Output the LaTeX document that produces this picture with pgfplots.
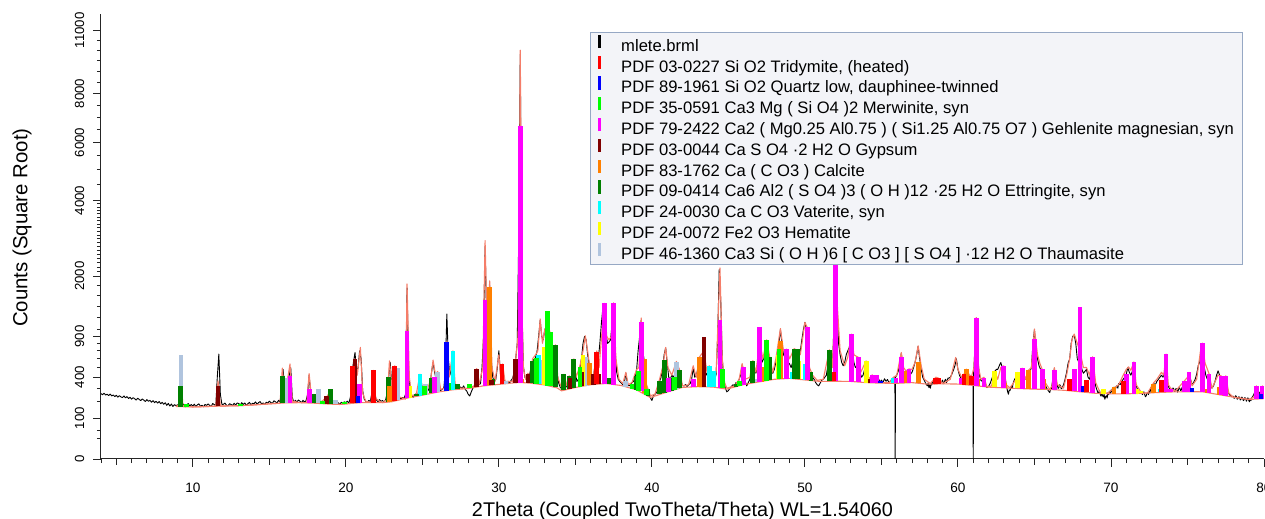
\documentclass[border=0pt]{standalone}
\usepackage{fontspec}
\setmainfont{Liberation Sans}
\usepackage{pgfplots}
\pgfplotsset{compat=1.18}

% phase colours
\definecolor{tri}{RGB}{255,0,0}
\definecolor{qtz}{RGB}{0,0,255}
\definecolor{mer}{RGB}{0,255,0}
\definecolor{geh}{RGB}{255,0,255}
\definecolor{gyp}{RGB}{128,0,0}
\definecolor{cal}{RGB}{255,128,0}
\definecolor{ett}{RGB}{0,128,0}
\definecolor{vat}{RGB}{0,255,255}
\definecolor{hem}{RGB}{255,255,0}
\definecolor{thm}{RGB}{176,196,222}
\definecolor{calc}{RGB}{245,125,105}
\definecolor{lgfill}{RGB}{243,244,248}
\definecolor{lgdraw}{RGB}{150,168,196}

% one stick per reflection: position / background level / peak height
\newcommand\sticks[2]{%
  \foreach \Sx/\Sb/\St in {#2}{%
    \edef\onestick{\noexpand\addplot[forget plot, draw=#1, line width=2.4pt]
      coordinates {(\Sx,\Sb) (\Sx,\St)};}%
    \onestick
  }%
}

\begin{document}
\begin{tikzpicture}
\useasboundingbox (-50.5pt,-30pt) rectangle (582pt,229.5pt);
\begin{axis}[
  scale only axis, width=581.5pt, height=222.5pt,
  xmin=4, xmax=80, ymin=0, ymax=11850,
  y coord trafo/.code={\pgfmathparse{sqrt(#1)}},
  y coord inv trafo/.code={\pgfmathparse{(#1)*(#1)}},
  axis x line*=bottom, axis y line*=left,
  axis line style={line width=0.5pt, black!85},
  tick align=outside,
  major tick length=3.8pt, minor tick length=2.1pt,
  every tick/.style={black!85, line width=0.45pt},
  xtick={10,20,...,80},
  minor xtick={4,5,...,80},
  extra x ticks={5,15,...,75},
  extra x tick labels={},
  extra x tick style={major tick length=3pt},
  ytick={0,100,400,900,2000,4000,6000,8000,11000},
  yticklabels={0,100,400,900,2000,4000,6000,8000,11000},
  minor ytick={25,50,200,300,500,600,700,800,1000,1200,1400,1600,1800,2100,2200,...,3900,4500,5000,5500,6500,7000,7500,8500,9000,9500,10000,10500},
  /pgf/number format/assume math mode=true,
  xticklabel style={font=\fontsize{6.8}{8}\selectfont, anchor=base, yshift=-13pt},
  yticklabel style={font=\fontsize{6.6}{8}\selectfont, xshift=-4.6pt, rotate=90, anchor=base},
  xlabel={2Theta (Coupled TwoTheta/Theta) WL=1.54060},
  ylabel={Counts (Square Root)},
  xlabel style={font=\fontsize{9.9}{12}\selectfont, at={(axis description cs:0.5,-0.1303)}, anchor=base},
  ylabel style={font=\fontsize{10.2}{12}\selectfont, at={(axis description cs:-0.0679,0.52)}, anchor=center},
  legend style={
    at={(axis description cs:0.4205,0.9596)}, anchor=north west,
    draw=lgdraw, line width=0.7pt, fill=lgfill,
    font=\fontsize{8.3}{9.7}\selectfont,
    inner xsep=3.4pt, inner ysep=0.2pt, row sep=-1.1pt,
    nodes={inner xsep=0.8pt, inner ysep=0.5pt, text height=6.2pt, text depth=1.9pt},
  },
  legend cell align=left,
  legend image code/.code={\draw[#1, line width=1.7pt] (0pt,-0.5pt) -- (0pt,6.1pt);
    \path[draw=none, fill=none] (-0.85pt,0pt) rectangle (10.2pt,0.1pt);},
]

% measured pattern
\addplot[forget plot, black, line width=0.45pt, line join=round] coordinates {
(4.0,256)(4.1,247)(4.2,259)(4.3,245)(4.4,251)(4.5,240)(4.6,252)(4.7,238)(4.8,245)(4.9,233)
(5.0,243)(5.1,229)(5.2,240)(5.3,231)(5.4,226)(5.5,238)(5.6,224)(5.7,233)(5.8,219)(5.9,228)
(6.0,214)(6.1,225)(6.2,217)(6.3,208)(6.4,221)(6.5,212)(6.6,204)(6.7,216)(6.8,207)(6.9,198)
(7.0,211)(7.1,199)(7.2,206)(7.3,193)(7.4,204)(7.5,190)(7.6,199)(7.7,187)(7.8,198)(7.9,183)
(8.0,192)(8.1,179)(8.2,189)(8.3,172)(8.4,185)(8.5,168)(8.6,181)(8.7,165)(8.8,177)(8.9,170)
(9.0,176)(9.1,166)(9.2,480)(9.3,170)(9.4,180)(9.5,163)(9.6,175)(9.7,184)(9.8,168)(9.9,178)
(10.0,168)(10.1,180)(10.2,164)(10.3,176)(10.4,182)(10.5,166)(10.6,173)(10.7,163)(10.8,178)(10.9,172)
(11.0,181)(11.1,172)(11.2,165)(11.3,184)(11.4,177)(11.5,170)(11.6,400)(11.7,659)(11.8,250)(11.9,179)
(12.0,179)(12.1,187)(12.2,173)(12.3,169)(12.4,183)(12.5,178)(12.6,171)(12.7,186)(12.8,174)(12.9,188)
(13.0,184)(13.1,174)(13.2,190)(13.3,178)(13.4,188)(13.5,171)(13.6,183)(13.7,192)(13.8,176)(13.9,186)
(14.0,183)(14.1,195)(14.2,179)(14.3,191)(14.4,197)(14.5,181)(14.6,188)(14.7,178)(14.8,193)(14.9,187)
(15.0,200)(15.1,191)(15.2,184)(15.3,203)(15.4,196)(15.5,187)(15.6,206)(15.7,194)(15.8,300)(15.9,480)
(16.0,300)(16.1,330)(16.2,280)(16.3,420)(16.4,500)(16.5,230)(16.6,191)(16.7,206)(16.8,194)(16.9,208)
(17.0,200)(17.1,190)(17.2,206)(17.3,194)(17.4,204)(17.5,250)(17.6,420)(17.7,260)(17.8,230)(17.9,240)
(18.0,200)(18.1,215)(18.2,270)(18.3,210)(18.4,196)(18.5,200)(18.6,193)(18.7,220)(18.8,230)(18.9,240)
(19.0,265)(19.1,210)(19.2,195)(19.3,200)(19.4,183)(19.5,190)(19.6,178)(19.7,192)(19.8,184)(19.9,196)
(20.0,190)(20.1,200)(20.2,186)(20.3,230)(20.4,450)(20.5,560)(20.6,679)(20.7,450)(20.8,500)(20.9,700)
(21.0,600)(21.1,280)(21.2,215)(21.3,200)(21.4,192)(21.5,206)(21.6,198)(21.7,260)(21.8,440)(21.9,250)
(22.0,208)(22.1,196)(22.2,211)(22.3,199)(22.4,205)(22.5,193)(22.6,210)(22.7,260)(22.8,400)(22.9,560)
(23.0,330)(23.1,300)(23.2,480)(23.3,420)(23.4,250)(23.5,225)(23.6,214)(23.7,226)(23.8,220)(23.9,250)
(24.0,1750)(24.1,500)(24.2,280)(24.3,240)(24.4,228)(24.5,245)(24.6,255)(24.7,240)(24.8,330)(24.9,400)
(25.0,290)(25.1,262)(25.2,290)(25.3,270)(25.4,285)(25.5,330)(25.6,450)(25.7,560)(25.8,450)(25.9,380)
(26.0,420)(26.1,300)(26.2,280)(26.3,292)(26.4,300)(26.5,450)(26.6,1258)(26.7,600)(26.8,420)(26.9,500)
(27.0,650)(27.1,350)(27.2,300)(27.3,310)(27.4,295)(27.5,310)(27.6,298)(27.7,320)(27.8,290)(27.9,276)
(28.0,250)(28.1,238)(28.2,270)(28.3,300)(28.4,320)(28.5,480)(28.6,400)(28.7,330)(28.8,340)(28.9,500)
(29.0,900)(29.1,2700)(29.2,1200)(29.3,1200)(29.4,1800)(29.5,600)(29.6,400)(29.7,360)(29.8,380)(29.9,500)
(30.0,701)(30.1,450)(30.2,520)(30.3,400)(30.4,360)(30.5,350)(30.6,362)(30.7,345)(30.8,370)(30.9,390)
(31.0,450)(31.1,600)(31.2,800)(31.3,3000)(31.4,9800)(31.5,1500)(31.6,520)(31.7,400)(31.8,380)(31.9,430)
(32.0,420)(32.1,500)(32.2,560)(32.3,560)(32.4,620)(32.5,700)(32.6,900)(32.7,1150)(32.8,900)(32.9,850)
(33.0,1000)(33.1,1050)(33.2,1100)(33.3,1000)(33.4,750)(33.5,650)(33.6,700)(33.7,760)(33.8,450)(33.9,350)
(34.0,310)(34.1,295)(34.2,420)(34.3,330)(34.4,310)(34.5,330)(34.6,400)(34.7,340)(34.8,400)(34.9,580)
(35.0,450)(35.1,360)(35.2,380)(35.3,500)(35.4,600)(35.5,800)(35.6,900)(35.7,850)(35.8,650)(35.9,540)
(36.0,430)(36.1,390)(36.2,430)(36.3,550)(36.4,680)(36.5,600)(36.6,800)(36.7,1100)(36.8,1376)(36.9,1400)
(37.0,950)(37.1,800)(37.2,820)(37.3,850)(37.4,1100)(37.5,1400)(37.6,700)(37.7,450)(37.8,380)(37.9,360)
(38.0,345)(38.1,330)(38.2,350)(38.3,440)(38.4,340)(38.5,320)(38.6,330)(38.7,350)(38.8,360)(38.9,400)
(39.0,470)(39.1,700)(39.2,900)(39.3,1150)(39.4,700)(39.5,580)(39.6,350)(39.7,290)(39.8,250)(39.9,225)
(40.0,205)(40.1,238)(40.2,250)(40.3,262)(40.4,290)(40.5,360)(40.6,400)(40.7,500)(40.8,650)(40.9,740)
(41.0,550)(41.1,400)(41.2,380)(41.3,420)(41.4,400)(41.5,430)(41.6,560)(41.7,500)(41.8,470)(41.9,360)
(42.0,325)(42.1,318)(42.2,332)(42.3,314)(42.4,330)(42.5,340)(42.6,380)(42.7,500)(42.8,400)(42.9,420)
(43.0,480)(43.1,600)(43.2,500)(43.3,560)(43.4,650)(43.5,450)(43.6,420)(43.7,500)(43.8,440)(43.9,380)
(44.0,400)(44.1,370)(44.2,430)(44.3,900)(44.4,2150)(44.5,1500)(44.6,600)(44.7,380)(44.8,300)(44.9,270)
(45.0,280)(45.1,300)(45.2,315)(45.3,330)(45.4,320)(45.5,350)(45.6,340)(45.7,380)(45.8,420)(45.9,530)
(46.0,450)(46.1,360)(46.2,320)(46.3,350)(46.4,380)(46.5,420)(46.6,560)(46.7,480)(46.8,440)(46.9,500)
(47.0,820)(47.1,700)(47.2,560)(47.3,600)(47.4,700)(47.5,840)(47.6,600)(47.7,560)(47.8,460)(47.9,440)
(48.0,480)(48.1,560)(48.2,650)(48.3,800)(48.4,1000)(48.5,800)(48.6,650)(48.7,620)(48.8,700)(48.9,560)
(49.0,540)(49.1,500)(49.2,560)(49.3,720)(49.4,650)(49.5,700)(49.6,620)(49.7,700)(49.8,850)(49.9,1000)
(50.0,1117)(50.1,1000)(50.2,600)(50.3,450)(50.4,430)(50.5,400)(50.6,380)(50.7,350)(50.8,330)(50.9,320)
(51.0,345)(51.1,372)(51.2,380)(51.3,400)(51.4,420)(51.5,520)(51.6,700)(51.7,520)(51.8,500)(51.9,1100)
(52.0,2900)(52.1,1400)(52.2,800)(52.3,650)(52.4,560)(52.5,520)(52.6,560)(52.7,650)(52.8,700)(52.9,745)
(53.0,900)(53.1,700)(53.2,560)(53.3,500)(53.4,520)(53.5,600)(53.6,450)(53.7,400)(53.8,420)(53.9,480)
(54.0,560)(54.1,420)(54.2,380)(54.3,372)(54.4,400)(54.5,360)(54.6,380)(54.7,365)(54.8,390)(54.9,355)
(55.0,372)(55.1,350)(55.2,385)(55.3,362)(55.4,378)(55.5,345)(55.6,368)(55.7,380)(55.8,400)(55.88,385)(55.9,0)(55.92,400)
(56.0,420)(56.1,460)(56.2,550)(56.3,670)(56.4,500)(56.5,430)(56.6,440)(56.7,420)(56.8,470)(56.9,430)
(57.0,450)(57.1,500)(57.2,560)(57.3,650)(57.4,760)(57.5,600)(57.6,480)(57.7,400)(57.8,370)(57.9,340)
(58.0,320)(58.05,345)(58.1,305)(58.15,330)(58.2,300)(58.25,338)(58.3,330)(58.35,362)(58.4,352)(58.45,338)(58.5,370)(58.6,380)(58.65,352)(58.7,360)(58.8,385)(58.85,348)(58.9,350)
(59.0,372)(59.05,340)(59.1,345)(59.15,372)(59.2,380)(59.25,350)(59.3,362)(59.35,392)(59.4,390)(59.5,400)(59.6,430)(59.7,470)(59.8,520)(59.9,600)
(60.0,480)(60.1,420)(60.2,390)(60.3,385)(60.4,410)(60.5,440)(60.6,470)(60.7,420)(60.8,400)(60.9,390)(60.98,380)(61.0,0)(61.02,420)
(61.1,700)(61.2,1190)(61.3,600)(61.4,420)(61.5,370)(61.6,360)(61.7,390)(61.8,330)(61.9,305)
(62.0,315)(62.1,340)(62.2,380)(62.3,420)(62.4,450)(62.5,480)(62.6,480)(62.7,520)(62.8,557)(62.9,500)
(63.0,510)(63.1,380)(63.2,300)(63.25,270)(63.3,251)(63.35,285)(63.4,280)(63.5,320)(63.55,298)(63.6,340)(63.7,380)(63.8,400)(63.9,440)
(64.0,400)(64.1,420)(64.2,480)(64.3,400)(64.4,380)(64.5,400)(64.6,460)(64.7,450)(64.8,500)(64.9,800)
(65.0,1000)(65.1,700)(65.2,600)(65.3,520)(65.4,480)(65.5,470)(65.6,380)(65.7,330)(65.8,300)(65.9,280)
(66.0,264)(66.05,292)(66.1,290)(66.2,380)(66.3,490)(66.4,360)(66.5,320)(66.55,298)(66.6,305)(66.65,330)(66.7,320)(66.75,296)(66.8,300)(66.9,330)
(67.0,380)(67.1,450)(67.2,550)(67.3,597)(67.4,800)(67.5,900)(67.6,920)(67.7,800)(67.8,600)(67.9,560)
(68.0,650)(68.1,480)(68.2,440)(68.3,460)(68.4,480)(68.5,400)(68.6,380)(68.7,450)(68.8,600)(68.9,400)
(69.0,320)(69.05,296)(69.1,280)(69.15,258)(69.2,265)(69.25,282)(69.3,250)(69.35,236)(69.4,262)(69.45,240)(69.5,230)(69.55,252)(69.6,214)(69.65,232)(69.7,240)(69.75,222)(69.8,262)(69.85,248)(69.9,275)(69.95,258)
(70.0,285)(70.05,268)(70.1,300)(70.15,282)(70.2,310)(70.25,290)(70.3,295)(70.35,318)(70.4,320)(70.45,300)(70.5,340)(70.6,330)(70.7,360)(70.8,380)(70.9,400)
(71.0,430)(71.1,500)(71.2,450)(71.3,420)(71.4,460)(71.5,550)(71.6,350)(71.7,300)(71.8,280)(71.9,262)
(72.0,270)(72.05,248)(72.1,255)(72.15,270)(72.2,250)(72.25,232)(72.3,238)(72.35,258)(72.4,265)(72.45,248)(72.5,280)(72.55,262)(72.6,300)(72.7,320)(72.8,340)(72.9,330)
(73.0,360)(73.1,380)(73.2,400)(73.3,420)(73.4,400)(73.5,450)(73.6,640)(73.7,340)(73.8,300)(73.9,290)
(74.0,280)(74.05,302)(74.1,295)(74.15,272)(74.2,276)(74.25,298)(74.3,290)(74.35,268)(74.4,282)(74.45,304)(74.5,300)(74.55,280)(74.6,286)(74.65,308)(74.7,310)(74.8,350)(74.9,330)
(75.0,360)(75.1,440)(75.2,380)(75.3,330)(75.4,350)(75.5,380)(75.6,430)(75.7,520)(75.8,565)(75.9,700)
(76.0,790)(76.1,500)(76.2,420)(76.3,380)(76.4,420)(76.5,340)(76.6,300)(76.7,320)(76.8,360)(76.9,420)
(77.0,465)(77.1,420)(77.2,400)(77.3,350)(77.4,380)(77.5,400)(77.6,300)(77.7,255)(77.8,240)(77.9,232)
(78.0,236)(78.05,220)(78.1,225)(78.15,240)(78.2,232)(78.25,214)(78.3,218)(78.35,232)(78.4,228)(78.45,208)(78.5,214)(78.55,230)(78.6,222)(78.65,204)(78.7,210)(78.75,226)(78.8,220)(78.85,200)(78.9,212)(78.95,224)
(79.0,206)(79.05,196)(79.1,218)(79.15,204)(79.2,224)(79.3,240)(79.4,270)(79.5,310)(79.6,240)(79.7,260)(79.8,280)(79.9,310)
(80.0,240)
};

% fitted background
\addplot[forget plot, calc, line width=0.55pt, line join=round] coordinates {
(8.9,165)(10,162)(11,165)(12,168)(13,170)(14,175)(15,182)(16,188)(17,190)(18,186)(19,180)(19.6,178)
(20,182)(21,190)(22,190)(22.4,190)(23,196)(24,222)(25,243)(26,268)(27,287)(28,297)(29,320)(30,333)
(31,347)(31.4,350)(32,345)(33,328)(33.8,303)(34.1,278)(35,306)(36,330)(37,341)(38,323)(39,286)
(39.9,226)(40,230)(41,268)(42,307)(43,313)(44,310)(44.9,292)(45,296)(46,331)(47,356)(48,380)
(49,389)(50,374)(51,360)(52,362)(53,360)(54,349)(55,344)(56,343)(57,349)(58,335)(59,338)(60,336)
(61,324)(62,309)(63,303)(64,297)(65,292)(66,289)(67,282)(68,270)(69,258)(70,254)(71,254)(72,258)
(73,264)(74,269)(75,271)(76,270)(77,249)(78,229)(79,212)(80,218)
};

% calculated pattern
\addplot[forget plot, calc, line width=0.55pt, line join=round] coordinates {
(8.9,165)(9.08,175)(9.2,486)(9.35,170)(10,162)(11,165)(11.5,168)(11.65,365)(11.8,168)(12,168)
(13,170)(14,175)(15,182)(15.7,186)(15.85,494)(16.0,260)(16.1,300)(16.35,540)(16.5,200)(17,190)
(17.45,190)(17.6,437)(17.75,230)(17.9,250)(18.05,200)(18.2,280)(18.35,190)(18.75,230)(19.0,280)
(19.15,185)(19.6,178)(20.3,185)(20.45,480)(20.6,600)(20.75,420)(20.95,745)(21.1,260)(21.3,200)
(21.65,190)(21.8,470)(21.95,220)(22.2,200)(22.4,190)(22.7,210)(22.85,577)(23.0,320)(23.2,520)
(23.35,400)(23.5,230)(23.9,215)(24.0,1833)(24.15,400)(24.3,240)(24.6,250)(24.85,430)(25.0,260)
(25.3,280)(25.55,380)(25.7,586)(25.85,430)(26.0,458)(26.2,290)(26.5,300)(26.6,830)(26.75,400)
(27.0,700)(27.15,320)(27.5,300)(28.0,300)(28.4,320)(28.55,490)(28.7,330)(28.95,500)(29.1,2855)
(29.25,900)(29.4,1900)(29.55,500)(29.75,360)(30.0,650)(30.1,420)(30.25,540)(30.4,360)(30.9,360)
(31.1,600)(31.25,900)(31.32,2800)(31.4,10000)(31.5,1500)(31.6,500)(31.75,380)(31.9,440)(32.05,400)
(32.2,600)(32.4,650)(32.55,700)(32.7,1175)(32.85,800)(33.0,1000)(33.2,1100)(33.35,950)(33.5,700)
(33.7,780)(33.85,400)(34.1,300)(34.25,430)(34.45,320)(34.6,414)(34.75,350)(34.9,600)(35.05,400)
(35.3,520)(35.5,700)(35.65,909)(35.8,700)(35.9,560)(36.05,420)(36.2,430)(36.4,700)(36.55,500)
(36.75,1000)(36.9,1450)(37.05,900)(37.2,850)(37.35,900)(37.5,1460)(37.65,600)(37.85,380)(38.1,340)
(38.3,450)(38.45,330)(38.7,350)(39.0,480)(39.15,500)(39.3,1190)(39.45,600)(39.6,350)(39.9,240)
(40.2,250)(40.5,380)(40.7,500)(40.9,745)(41.05,500)(41.3,420)(41.6,570)(41.8,480)(42.0,320)
(42.4,330)(42.7,520)(42.9,400)(43.1,620)(43.4,700)(43.6,450)(43.75,520)(43.9,400)(44.2,450)
(44.45,2183)(44.6,600)(44.75,350)(44.9,300)(45.4,320)(45.7,380)(45.9,545)(46.1,380)(46.4,400)
(46.6,580)(46.8,450)(47.05,836)(47.25,600)(47.5,850)(47.7,620)(47.9,450)(48.1,600)(48.4,1019)
(48.6,700)(48.8,723)(49.0,600)(49.3,730)(49.5,700)(49.7,650)(50.0,1117)(50.15,1036)(50.3,500)
(50.5,420)(50.8,370)(51.2,380)(51.6,714)(51.8,500)(51.92,1200)(52.0,3000)(52.1,1500)(52.3,700)
(52.6,520)(52.8,620)(52.9,745)(53.05,934)(53.2,650)(53.5,617)(53.65,450)(54.0,577)(54.15,380)
(54.4,424)(54.6,360)(55.0,350)(55.5,348)(55.8,400)(56.0,420)(56.3,679)(56.45,500)(56.6,465)
(56.8,485)(57.0,480)(57.2,560)(57.4,767)(57.6,520)(57.8,380)(58.2,340)(58.55,400)(58.75,390)
(59.0,340)(59.5,380)(59.85,617)(60.0,480)(60.25,397)(60.4,431)(60.55,483)(60.75,420)(60.9,414)
(61.05,500)(61.2,1198)(61.35,500)(61.5,380)(61.7,400)(61.9,310)(62.2,320)(62.4,465)(62.6,380)
(62.8,500)(63.0,520)(63.15,330)(63.4,303)(63.8,380)(63.9,448)(64.05,400)(64.2,494)(64.4,380)
(64.6,472)(64.8,500)(65.0,1011)(65.2,650)(65.35,550)(65.5,483)(65.7,350)(66.0,290)(66.15,320)
(66.3,500)(66.5,330)(66.9,300)(67.1,420)(67.3,600)(67.45,850)(67.6,934)(67.8,800)(67.97,700)
(68.2,500)(68.4,501)(68.6,420)(68.8,625)(69.0,350)(69.3,262)(69.8,260)(70.2,300)(70.5,330)
(70.8,420)(71.0,480)(71.15,508)(71.3,470)(71.5,565)(71.65,330)(72.0,262)(72.4,262)(72.8,350)
(73.0,380)(73.3,450)(73.45,420)(73.6,659)(73.75,330)(73.9,300)(74.2,275)(74.8,365)(75.0,400)
(75.1,448)(75.3,320)(75.6,380)(75.85,700)(75.97,804)(76.15,550)(76.4,440)(76.6,300)(77.0,420)
(77.2,414)(77.35,360)(77.5,414)(77.7,260)(78,229)(79,212)(79.35,230)(79.5,320)(79.65,230)
(79.8,250)(79.9,320)(80,225)
};

% reference patterns
\sticks{thm}{9.23/164/646, 16.07/188/397, 18.2/185/292, 19.3/179/205, 23.35/205/494, 25.2/248/335, 26.0/268/458, 30.45/340/365, 32.75/335/586, 35.65/322/628, 38.3/312/360, 41.6/291/568, 44.55/300/360, 46.9/353/381, 47.3/363/465}
\sticks{hem}{24.15/225/320, 33.0/328/745, 35.5/318/650, 40.95/266/341, 48.25/382/650, 49.6/380/577, 54.0/349/577, 57.45/343/380, 62.4/307/465, 63.9/298/448, 69.5/256/290, 71.7/255/292, 71.95/257/280}
\sticks{vat}{24.85/240/431, 27.0/287/701, 32.6/338/650, 43.75/311/520, 44.0/310/465, 49.2/387/458, 50.0/374/540, 55.8/343/397, 73.2/265/290}
\sticks{ett}{9.17/164/320, 15.85/187/414, 17.9/187/256, 19.0/180/292, 22.8/194/404, 24.6/235/252, 25.6/258/397, 27.3/290/341, 29.6/328/380, 32.2/342/577, 32.4/338/597, 33.7/306/780, 34.2/281/431, 34.6/294/414, 34.9/303/597, 37.2/337/397, 39.0/286/414, 39.75/236/290, 40.5/249/365, 40.85/262/586, 41.3/280/397, 41.8/299/476, 45.5/313/340, 46.6/346/577, 47.7/373/617, 49.3/385/730, 49.5/382/723, 50.4/368/450, 51.6/361/714}
\sticks{cal}{22.85/195/320, 29.4/325/1777, 31.5/349/381, 35.9/328/557, 39.5/260/604, 43.1/313/617, 47.15/358/501, 48.4/382/836, 56.6/347/465, 57.4/343/565, 60.55/330/483, 61.3/322/384, 63.05/303/350, 64.6/294/472, 65.6/290/384, 70.2/254/311, 72.8/263/335, 76.3/264/292, 77.1/247/311}
\sticks{gyp}{11.65/167/320, 18.75/182/238, 20.6/187/600, 28.55/310/490, 29.5/326/370, 31.1/348/597, 31.9/346/437, 33.15/323/480, 34.65/296/397, 35.4/316/458, 36.2/332/437, 36.55/336/437, 43.4/312/894, 54.3/348/380}
\sticks{geh}{16.35/189/414, 17.6/188/292, 20.9/189/335, 24.0/222/984, 25.8/263/404, 29.1/321/1518, 31.4/350/6622, 36.9/339/1449, 37.5/332/1460, 39.3/279/1131, 41.1/272/397, 42.7/311/380, 44.45/301/1161, 46.0/331/501, 47.05/357/1036, 48.8/387/723, 50.15/372/1036, 52.0/362/2900, 53.05/359/934, 53.5/355/617, 54.4/347/424, 54.7/345/420, 55.95/343/397, 56.3/345/625, 56.8/348/485, 60.25/333/391, 61.2/321/1198, 61.7/313/397, 63.0/303/520, 64.2/296/494, 65.0/292/860, 65.5/290/483, 66.3/287/472, 67.6/275/483, 67.97/270/1387, 68.8/260/625, 71.0/254/437, 71.5/254/565, 73.6/267/659, 73.9/268/292, 74.8/271/365, 75.1/271/448, 75.97/270/804, 76.4/262/431, 77.2/245/414, 77.5/239/414, 79.5/215/320, 79.9/217/320}
\sticks{mer}{9.6/163/178, 13.1/171/180, 18.5/183/202, 19.9/181/197, 25.15/247/320, 26.7/281/350, 28.1/299/335, 32.45/337/609, 33.2/322/1316, 33.35/318/958, 35.3/313/501, 38.7/297/335, 39.15/280/465, 39.65/243/292, 41.5/288/404, 44.6/300/483, 45.7/320/360, 47.5/368/846, 48.3/383/723}
\sticks{qtz}{20.8/188/240, 26.6/279/826, 54.95/344/365, 68.2/267/320, 75.3/271/300, 79.8/217/254}
\sticks{tri}{20.45/186/520, 21.8/190/472, 23.2/201/520, 30.2/336/540, 36.4/334/691, 51.9/362/448, 58.55/337/397, 58.75/337/390, 60.4/331/431, 60.9/325/414, 67.3/278/384, 68.4/265/375, 70.8/254/365, 73.3/266/372}

\addlegendimage{black}
\addlegendentry{mlete.brml}
\addlegendimage{tri}
\addlegendentry{PDF 03-0227 Si O2 Tridymite, (heated)}
\addlegendimage{qtz}
\addlegendentry{PDF 89-1961 Si O2 Quartz low, dauphinee-twinned}
\addlegendimage{mer}
\addlegendentry{PDF 35-0591 Ca3 Mg ( Si O4 )2 Merwinite, syn}
\addlegendimage{geh}
\addlegendentry{PDF 79-2422 Ca2 ( Mg0.25 Al0.75 ) ( Si1.25 Al0.75 O7 ) Gehlenite magnesian, syn}
\addlegendimage{gyp}
\addlegendentry{PDF 03-0044 Ca S O4 ·2 H2 O Gypsum}
\addlegendimage{cal}
\addlegendentry{PDF 83-1762 Ca ( C O3 ) Calcite}
\addlegendimage{ett}
\addlegendentry{PDF 09-0414 Ca6 Al2 ( S O4 )3 ( O H )12 ·25 H2 O Ettringite, syn}
\addlegendimage{vat}
\addlegendentry{PDF 24-0030 Ca C O3 Vaterite, syn}
\addlegendimage{hem}
\addlegendentry{PDF 24-0072 Fe2 O3 Hematite}
\addlegendimage{thm}
\addlegendentry{PDF 46-1360 Ca3 Si ( O H )6 [ C O3 ] [ S O4 ] ·12 H2 O Thaumasite}
\end{axis}
\end{tikzpicture}
\end{document}
